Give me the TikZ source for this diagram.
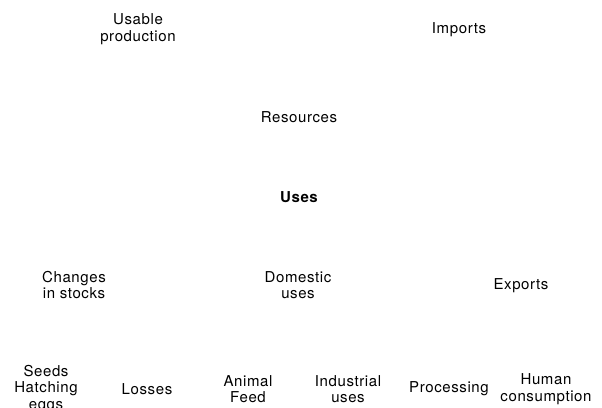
\documentclass[tikz,border=0pt]{standalone}
\usepackage{fontspec}
\setmainfont{TeX Gyre Heros}
\usepackage{tikz}

\begin{document}
\begin{tikzpicture}[x=1pt,y=-1pt,
        lbl/.style={align=center,inner sep=0pt,
            font=\addfontfeature{LetterSpace=4}\fontsize{15}{16.5}\selectfont}]
        \clip (0,0) rectangle (602,407);
        \useasboundingbox (0,0) rectangle (602,407);
        \coordinate (p1) at (138,29);
        \coordinate (p2) at (459,30);
        \coordinate (r1) at (299,117);
        \coordinate (u1) at (299,197);

        \coordinate (m1) at (74,285);
        \coordinate (m2) at (298,285);
        \coordinate (m3) at (521,286);

        \coordinate (b1) at (46,389);
        \coordinate (b2) at (147,389);
        \coordinate (b3) at (248,389);
        \coordinate (b4) at (348,389);
        \coordinate (b5) at (449,389);
        \coordinate (b6) at (546,389);

        \node[lbl] (Production) at (p1) {Usable\\production};
        \node[lbl] (Imports) at (p2) {Imports};
        \node[lbl] (Resources) at (r1) {Resources};
        \node[lbl,font=\addfontfeature{LetterSpace=4}\fontsize{15}{16.5}\selectfont\bfseries] (Uses) at (u1) {Uses};
        \node[lbl] (Stocks) at (m1) {Changes\\in stocks};
        \node[lbl] (Domestic) at (m2) {Domestic\\uses};
        \node[lbl] (Exports) at (m3) {Exports};
        \node[lbl] (Seeds) at (b1) {Seeds\\Hatching\\eggs};
        \node[lbl] (Losses) at (b2) {Losses};
        \node[lbl] (Feed) at (b3) {Animal\\Feed};
        \node[lbl] (Industrial) at (b4) {Industrial\\uses};
        \node[lbl] (Processing) at (b5) {Processing};
        \node[lbl] (Human) at (b6) {Human\\consumption};
    \end{tikzpicture}
\end{document}
